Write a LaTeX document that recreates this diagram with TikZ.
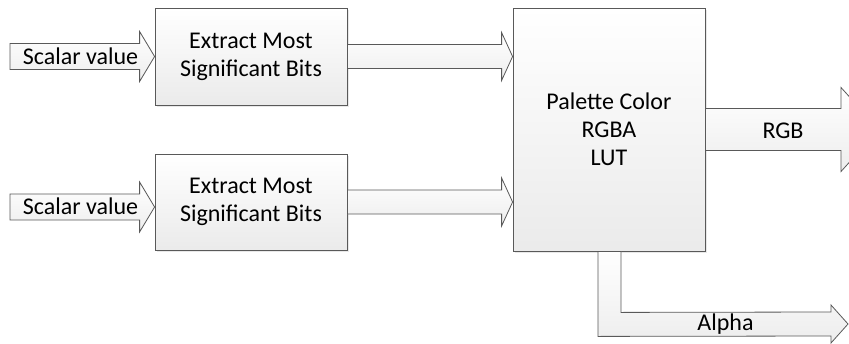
\documentclass[tikz,border=0pt]{standalone}
\usepackage{fontspec}
\setmainfont{Carlito}
\usetikzlibrary{calc,shadows}
\newcommand\blockarr[5]{% #1 start, #2 tip, #3 shaft half, #4 head half, #5 head length
  \draw[blockarrow] ($(#1)+(0,-#3)$) -- ($(#2)+(-#5,-#3)$) -- ($(#2)+(-#5,-#4)$) -- (#2)
    -- ($(#2)+(-#5,#4)$) -- ($(#2)+(-#5,#3)$) -- ($(#1)+(0,#3)$) -- cycle;}
\begin{document}
\begin{tikzpicture}[x=1pt,y=-1pt,
  box/.style={draw=black!65, line width=0.8pt, top color=white, bottom color=black!8,
    drop shadow={opacity=0.18,shadow xshift=1.5pt,shadow yshift=-1.5pt},
    font=\fontsize{24}{28}\selectfont, align=center, inner sep=0pt},
  blockarrow/.style={draw=black!65, line width=0.8pt, top color=white, bottom color=black!7, line join=miter},
  lbl/.style={font=\fontsize{24}{28}\selectfont, inner sep=0pt}]
\useasboundingbox (0,0) rectangle (849,343);
\clip (0,0) rectangle (849,343);

% blocks
\node[box, minimum width=192pt, minimum height=97pt] (b1) at (251,56.5) {Extract Most\\Significant Bits};
\node[box, minimum width=192pt, minimum height=96pt] (b2) at (251,202) {Extract Most\\Significant Bits};
\node[box, minimum width=192pt, minimum height=243pt] (lut) at (609,129.5) {Palette Color\\RGBA\\LUT};

% input arrows
\coordinate (s1) at (10,56.5);
\coordinate (s2) at (10,207);
\coordinate (t2) at ($(b2.west)+(0,5)$);
\blockarr{s1}{b1.west}{13}{25}{15}
\blockarr{s2}{t2}{13}{25}{15}
\node[lbl] (l1) at (80.5,56.5) {Scalar value};
\node[lbl] (l2) at (80.5,206) {Scalar value};

% box to LUT arrows
\coordinate (m1) at (lut.west |- b1.east);
\coordinate (m2) at (lut.west |- b2.east);
\blockarr{b1.east}{m1}{12}{24}{11}
\blockarr{b2.east}{m2}{12}{24}{11}

% RGB output
\coordinate (rtip) at (879,129.5);
\blockarr{lut.east}{rtip}{21}{42}{38}
\node[lbl] (lrgb) at (783,130.5) {RGB};

% Alpha output
\coordinate (aL) at ($(lut.south)+(-11,0)$);
\coordinate (aR) at ($(lut.south)+(12,0)$);
\coordinate (atip) at (848,324);
\draw[blockarrow] (aL) -- ($(aL)+(0,85)$) -- ($(atip)+(-17,12)$) -- ($(atip)+(-17,19)$) -- (atip)
  -- ($(atip)+(-17,-19)$) -- ($(atip)+(-17,-12)$) -- ($(aR)+(0,61)$) -- (aR) -- cycle;
\node[lbl, anchor=base] (lalpha) at (725.5,330.5) {Alpha};
\end{tikzpicture}
\end{document}
